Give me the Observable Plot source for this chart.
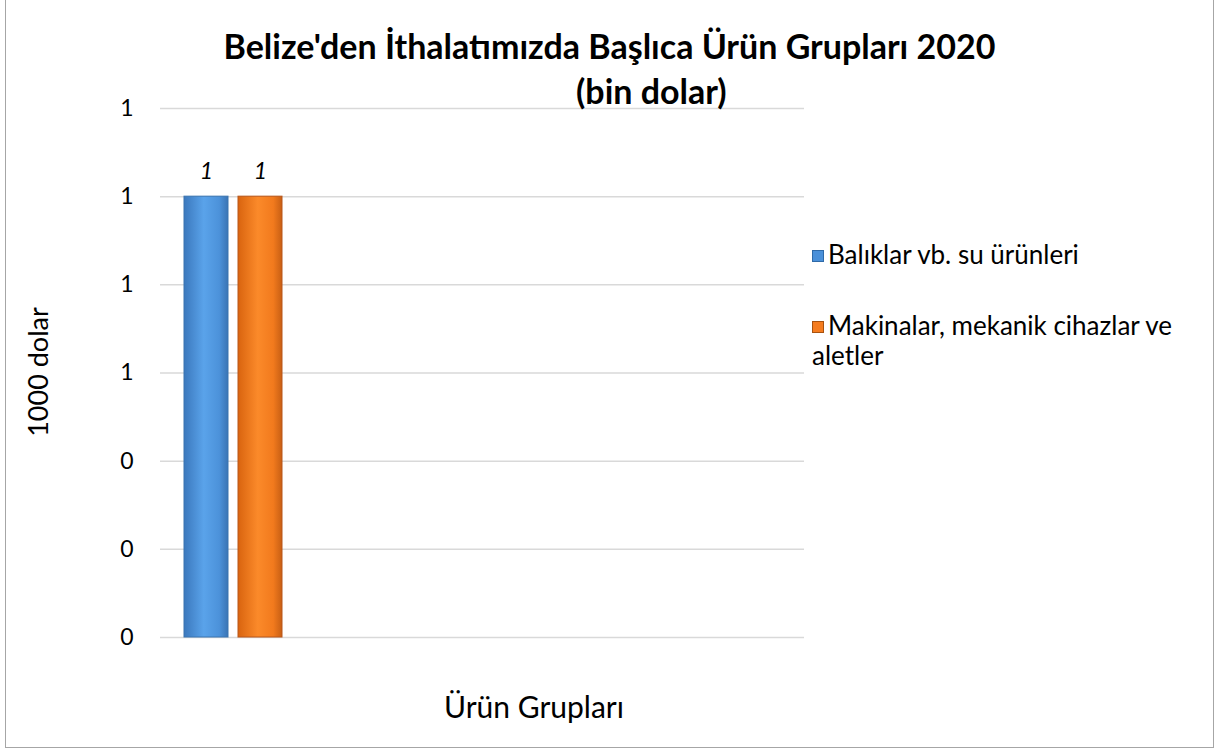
<!DOCTYPE html>
<html><head><meta charset="utf-8">
<script src="https://cdn.jsdelivr.net/npm/d3@7"></script>
<script src="https://cdn.jsdelivr.net/npm/@observablehq/plot@0.6"></script>
<style>
body{margin:0;background:#fff;font-family:Lato,"Open Sans",sans-serif;}
#wrap{position:relative;width:1219px;height:751px;overflow:hidden;}
#frame{position:absolute;left:5px;top:-2px;width:1209px;height:750px;border:1.5px solid #a6a6a6;box-sizing:border-box;}
.t{position:absolute;white-space:nowrap;color:#000;}
#title1{left:0;width:1219px;text-align:center;top:26px;font-weight:bold;font-size:34px;line-height:40px;}
#title2{left:576px;top:71px;font-weight:bold;font-size:34px;line-height:40px;}
#ylab{left:37px;top:372px;font-size:27px;transform:translate(-50%,-50%) rotate(-90deg);}
#xlab{left:534px;top:706px;font-size:30px;transform:translate(-50%,-50%);}
.leg{position:absolute;left:812px;font-size:26px;line-height:30px;}
.sw{display:inline-block;width:10px;height:10px;margin-right:4px;vertical-align:2px;}
#plot{position:absolute;left:0;top:0;}
</style></head>
<body><div id="wrap">
<div id="frame"></div>
<div id="plot"></div>
<div class="t" id="title1">Belize'den İthalatımızda Başlıca Ürün Grupları 2020</div>
<div class="t" id="title2">(bin dolar)</div>
<div class="t" id="ylab">1000 dolar</div>
<div class="t" id="xlab">Ürün Grupları</div>
<div id="legend"></div>
</div>
<script>
const series = ["Balıklar vb. su ürünleri", "Makinalar, mekanik cihazlar ve aletler"];
const values = [1, 1];
const labels = ["1", "1"];
const colors = ["#4a90d9", "#f57c1f"];
const legendLines = [["Balıklar vb. su ürünleri"], ["Makinalar, mekanik cihazlar ve", "aletler"]];
const yTicks = [0, 0.2, 0.4, 0.6, 0.8, 1.0, 1.2];

const data = series.map((s, i) => ({series: s, value: values[i], label: labels[i], grad: "url(#g" + i + ")"}));

const chart = Plot.plot({
  width: 1219, height: 751,
  marginLeft: 160, marginRight: 415, marginTop: 108, marginBottom: 114,
  style: {fontFamily: "Lato, 'Open Sans', sans-serif", fontSize: "23px", background: "transparent", color: "#000"},
  x: {domain: series, range: [183, 283], paddingInner: 0.18, paddingOuter: 0, axis: null},
  y: {domain: [0, 1.2], ticks: yTicks, tickFormat: d3.format(".0f"), tickSize: 0, tickPadding: 27, label: null},
  marks: [
    Plot.gridY(yTicks, {stroke: "#d9d9d9", strokeOpacity: 1, strokeWidth: 1.5}),
    Plot.barY(data, {x: "series", y: "value", fill: "grad", stroke: d => d.series === series[0] ? "#3a74b0" : "#b8561a", strokeWidth: 1}),
    Plot.text(data, {x: "series", y: "value", text: "label", dy: -25, fontStyle: "italic", fontSize: 23, fill: "#000"})
  ]
});
document.getElementById("plot").appendChild(chart);

const svg = d3.select(chart);
const defs = svg.insert("defs", ":first-child");
const stops = [
  [["#3b78bd",0],["#5aa3ea",0.45],["#4c92da",0.8],["#3a74b4",1]],
  [["#d9640f",0],["#fb8a2a",0.45],["#f27a1d",0.8],["#c85f14",1]]
];
stops.forEach((st, i) => {
  const g = defs.append("linearGradient").attr("id", "g" + i).attr("x1", 0).attr("x2", 1).attr("y1", 0).attr("y2", 0);
  st.forEach(([c, o]) => g.append("stop").attr("offset", o).attr("stop-color", c));
});

const leg = document.getElementById("legend");
const legTops = [239, 310];
legendLines.forEach((lines, i) => {
  const d = document.createElement("div");
  d.className = "t leg";
  d.style.top = legTops[i] + "px";
  d.innerHTML = '<span class="sw" style="background:' + colors[i] + ';border:1px solid ' + (i ? "#a9520f" : "#2f6aa8") + '"></span>' + lines.join("<br>");
  leg.appendChild(d);
});
</script>
</body></html>
